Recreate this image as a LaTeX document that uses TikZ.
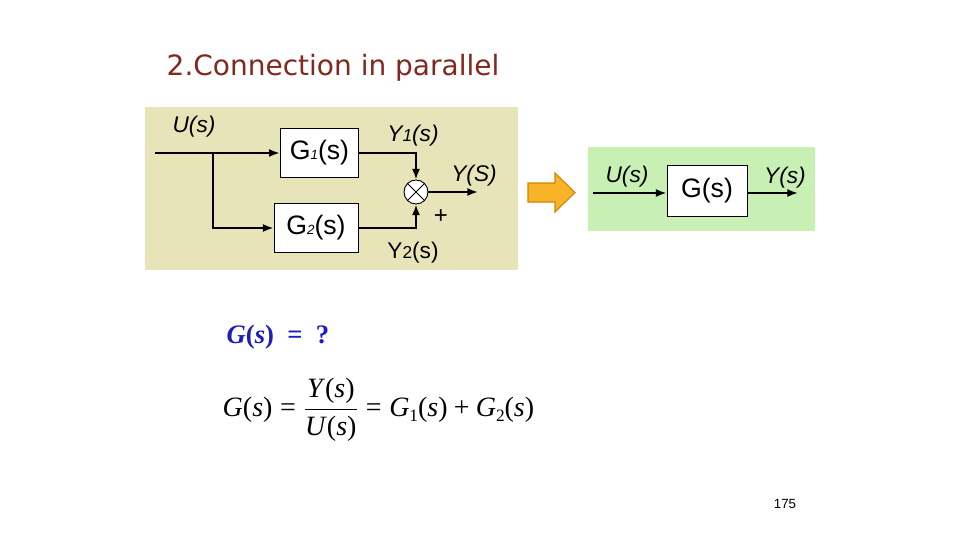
\documentclass[tikz,border=0pt]{standalone}
\usepackage{amsmath}
\usepackage{fontspec}
\setmainfont{Liberation Sans}
\newfontfamily\eqfont{Liberation Serif}
\newfontfamily\titlefont{DejaVu Sans}
\definecolor{titlered}{RGB}{130, 40, 30}
\definecolor{padyellow}{RGB}{232, 228, 186}
\definecolor{padgreen}{RGB}{200, 240, 180}
\definecolor{eqblue}{RGB}{30, 30, 190}
\definecolor{arroworange}{RGB}{247, 180, 40}
\definecolor{arrowedge}{RGB}{215, 130, 0}
\usetikzlibrary{arrows.meta, positioning, calc}
% Times-like function of s, optional subscript
\newcommand{\tfn}[3][]{\mbox{\eqfont\textit{#2}\raisebox{-0.35ex}{\fontsize{13}{15}\selectfont #1}(\textit{#3})}}
\newcommand{\teq}{\mathrel{\mbox{\eqfont=}}}

\begin{document}
\begin{tikzpicture}[x=0.75pt, y=-0.75pt,
    blockbox/.style={draw, line width=0.7pt, fill=white, inner sep=0pt, font=\fontsize{20}{24}\selectfont},
    sig/.style={line width=1.3pt, -{Latex[length=8pt, width=6pt]}},
    siglabel/.style={font=\fontsize{17}{20}\selectfont}]
  \useasboundingbox[fill=white] (0, 0) rectangle (960, 540);

  % Title
  \node[anchor=west, text=titlered, font=\fontsize{21}{24}\selectfont\titlefont] (title) at (162, 68) {2.Connection in parallel};

  % Parallel connection
  \fill[padyellow] (145, 107) rectangle (518, 270);
  \node[blockbox, minimum width=59pt, minimum height=37pt] (g1) at (319.5, 153) {G{\fontsize{10}{12}\selectfont\itshape 1}(s)};
  \node[blockbox, minimum width=63pt, minimum height=37pt] (g2) at (316, 228) {G{\fontsize{10}{12}\selectfont\itshape 2}(s)};
  \node[draw, circle, line width=0.7pt, fill=white, minimum size=18pt, inner sep=0pt] (sum) at (416, 192) {};
  \draw[line width=0.6pt] (sum.north west) -- (sum.south east);
  \draw[line width=0.6pt] (sum.north east) -- (sum.south west);

  \coordinate (uin) at (155, 153);
  \coordinate (branch) at (213, 153);
  \coordinate (yout) at (478, 192);
  \draw[sig] (uin) -- (g1.west);
  \draw[sig] (branch) |- (g2.west);
  \draw[sig] (g1.east) -| (sum.north);
  \draw[sig] (g2.east) -| (sum.south);
  \draw[sig] (sum.east) -- (yout);

  \node[siglabel] (ulabel) at (194, 127) {\itshape U(s)};
  \node[siglabel] (y1label) at (413, 136) {\itshape Y{\fontsize{13}{15}\selectfont 1}(s)};
  \node[siglabel] (ylabel) at (474, 176) {\itshape Y(S)};
  \node[font=\fontsize{18}{20}\selectfont] (plus) at (441, 217) {+};
  \node[siglabel] (y2label) at (413, 253) {Y{\fontsize{13}{15}\selectfont 2}(s)};

  % Equivalent block
  \draw[line width=0.8pt, draw=arrowedge, fill=arroworange]
    (528, 183) -- (555, 183) -- (555, 173) -- (575, 192.5) -- (555, 212) -- (555, 202) -- (528, 202) -- cycle;
  \fill[padgreen] (588, 147) rectangle (815, 231);
  \node[blockbox, minimum width=60pt, minimum height=38pt] (gbox) at (707, 191) {G(s)};
  \coordinate (uin2) at (593, 193);
  \coordinate (yout2) at (798, 193);
  \draw[sig] (uin2) -- (uin2 -| gbox.west);
  \draw[sig] (yout2 -| gbox.east) -- (yout2);
  \node[siglabel] (ulabel2) at (627, 177) {\itshape U(s)};
  \node[siglabel] (ylabel2) at (785, 178) {\itshape Y(s)};

  % Result
  \node[anchor=west, text=eqblue, font=\fontsize{20}{22}\selectfont\eqfont\bfseries] (question) at (222, 337) {\textit{G}(\textit{s})\hspace{0.5em}=\hspace{0.5em}?};
  \node[anchor=west, font=\fontsize{21}{25}\selectfont] (result) at (218, 410) {$\tfn{G}{s}\teq\dfrac{\tfn{Y}{s}}{\tfn{U}{s}}\teq\tfn[1]{G}{s}\mathbin{\mbox{\eqfont+}}\tfn[2]{G}{s}$};

  % Page number
  \node[font=\fontsize{10}{12}\selectfont] (page) at (785, 504) {175};
\end{tikzpicture}
\end{document}
